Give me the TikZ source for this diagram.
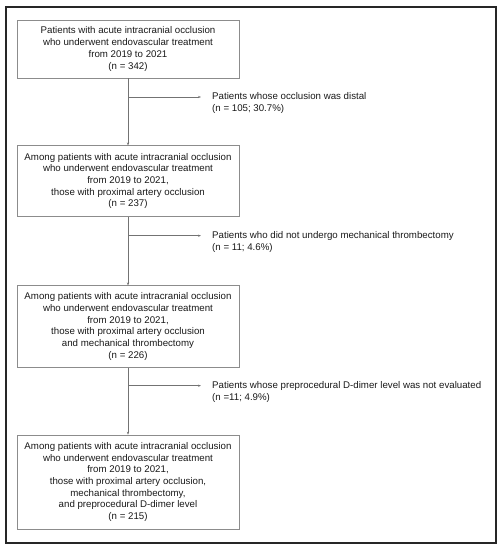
\documentclass[tikz,border=0pt]{standalone}
\usepackage{fontspec}
\setmainfont{Liberation Sans}
\usetikzlibrary{arrows.meta}
\begin{document}
\begin{tikzpicture}[x=1pt,y=-1pt,
  flowbox/.style={draw=black!45,line width=0.6pt,minimum width=222pt,align=center,
    font=\fontsize{9.7}{11.7}\selectfont,text=black!90,inner sep=0pt},
  sidetext/.style={align=left,anchor=west,font=\fontsize{9.7}{11.7}\selectfont,text=black!90,inner sep=0pt},
  conn/.style={draw=black!55,line width=0.6pt,-{Stealth[length=3pt,width=2.2pt]}}]
\useasboundingbox (0,0) rectangle (502,550);
\draw[line width=1.1pt,black!85] (6,7) rectangle (496,543);
\node[flowbox,minimum height=58pt] (b1) at (128,49)
  {Patients with acute intracranial occlusion\\who underwent endovascular treatment\\from 2019 to 2021\\(n = 342)};
\node[flowbox,minimum height=70.5pt] (b2) at (128,181)
  {Among patients with acute intracranial occlusion\\who underwent endovascular treatment\\from 2019 to 2021,\\those with proximal artery occlusion\\(n = 237)};
\node[flowbox,minimum height=81.5pt] (b3) at (128,326.5)
  {Among patients with acute intracranial occlusion\\who underwent endovascular treatment\\from 2019 to 2021,\\those with proximal artery occlusion\\and mechanical thrombectomy\\(n = 226)};
\node[flowbox,minimum height=94pt] (b4) at (128,482)
  {Among patients with acute intracranial occlusion\\who underwent endovascular treatment\\from 2019 to 2021,\\those with proximal artery occlusion,\\mechanical thrombectomy,\\and preprocedural D-dimer level\\(n = 215)};
\node[sidetext] (e1) at (212,103) {Patients whose occlusion was distal\\(n = 105; 30.7\%)};
\node[sidetext] (e2) at (212,242) {Patients who did not undergo mechanical thrombectomy\\(n = 11; 4.6\%)};
\node[sidetext] (e3) at (212,392) {Patients whose preprocedural D-dimer level was not evaluated\\(n =11; 4.9\%)};
\coordinate (j1) at (128,97);
\coordinate (j2) at (128,235.7);
\coordinate (j3) at (128,385.7);
\coordinate (t1) at (201,97);
\coordinate (t2) at (201,235.7);
\coordinate (t3) at (201,385.7);
\draw[conn] (b1.south) -- (b2.north);
\draw[conn] (b2.south) -- (b3.north);
\draw[conn] (b3.south) -- (b4.north);
\draw[conn] (j1) -- (t1);
\draw[conn] (j2) -- (t2);
\draw[conn] (j3) -- (t3);
\end{tikzpicture}
\end{document}
